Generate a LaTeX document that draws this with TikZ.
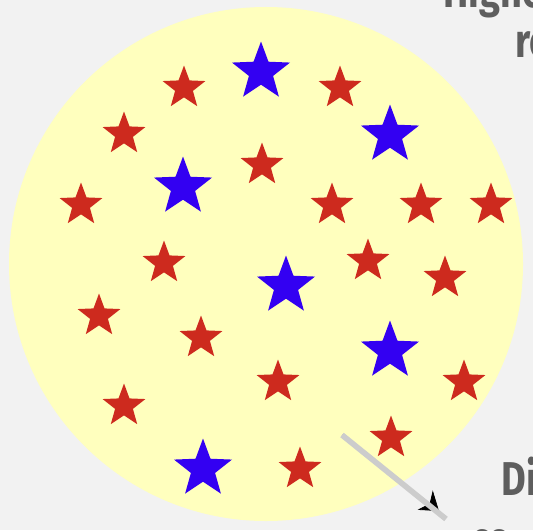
\documentclass[tikz,border=0pt]{standalone}
\usepackage{fontspec}
\setmainfont{Fira Sans}[FakeStretch=0.8]
\usetikzlibrary{shapes.geometric,arrows.meta}
\definecolor{backgray}{HTML}{F2F2F2}
\definecolor{paleyellow}{HTML}{FFFFBE}
\definecolor{starred}{HTML}{CD2A1E}
\definecolor{starblue}{HTML}{3300F2}
\definecolor{textgray}{HTML}{5E5E5E}
\definecolor{linegray}{HTML}{CCCCCC}

\begin{document}
\begin{tikzpicture}[x=0.02cm,y=-0.02cm,
  redstar/.style={star,star points=5,star point ratio=2.4,fill=starred,inner sep=0pt,minimum size=0.9cm},
  bluestar/.style={star,star points=5,star point ratio=2.4,fill=starblue,inner sep=0pt,minimum size=1.22cm},
  cuttext/.style={anchor=base west,inner sep=0pt,text=textgray,font=\fontsize{27}{30}\selectfont\bfseries}]
\useasboundingbox (0,0) rectangle (533,530);
\clip (0,0) rectangle (533,530);
\fill[backgray] (0,0) rectangle (533,530);
\fill[paleyellow] (266,264) circle (257);

% blue stars
\node[bluestar] (b1) at (261,72) {};
\node[bluestar] (b2) at (390,135) {};
\node[bluestar] (b3) at (183,187) {};
\node[bluestar] (b4) at (286,286) {};
\node[bluestar] (b5) at (390,351) {};
\node[bluestar] (b6) at (203,469) {};

% red stars
\node[redstar] (r1) at (184,88) {};
\node[redstar] (r2) at (340,88) {};
\node[redstar] (r3) at (124,134) {};
\node[redstar] (r4) at (262,165) {};
\node[redstar] (r5) at (81,205) {};
\node[redstar] (r6) at (332,205) {};
\node[redstar] (r7) at (421,205) {};
\node[redstar] (r8) at (491,205) {};
\node[redstar] (r9) at (164,263) {};
\node[redstar] (r10) at (368,261) {};
\node[redstar] (r11) at (445,278) {};
\node[redstar] (r12) at (99,316) {};
\node[redstar] (r13) at (201,338) {};
\node[redstar] (r14) at (278,382) {};
\node[redstar] (r15) at (464,382) {};
\node[redstar] (r16) at (124,406) {};
\node[redstar] (r17) at (391,438) {};
\node[redstar] (r18) at (300,469) {};

% pointer
\coordinate (tail) at (342,435);
\coordinate (head) at (439,511);
\coordinate (tailend) at (446,519);
\draw[-{Stealth[length=10pt,width=14pt]},black] (tail) -- (head);
\draw[linegray,line width=3.2pt] (tail) -- (tailend);

% labels cut by the frame
\node[cuttext] (top1) at (443,8) {Highe};
\node[cuttext] (top2) at (515,58) {re};
\node[cuttext] (low1) at (501,495) {Di};
\node[cuttext] (low2) at (471,555) {co};
\end{tikzpicture}
\end{document}
